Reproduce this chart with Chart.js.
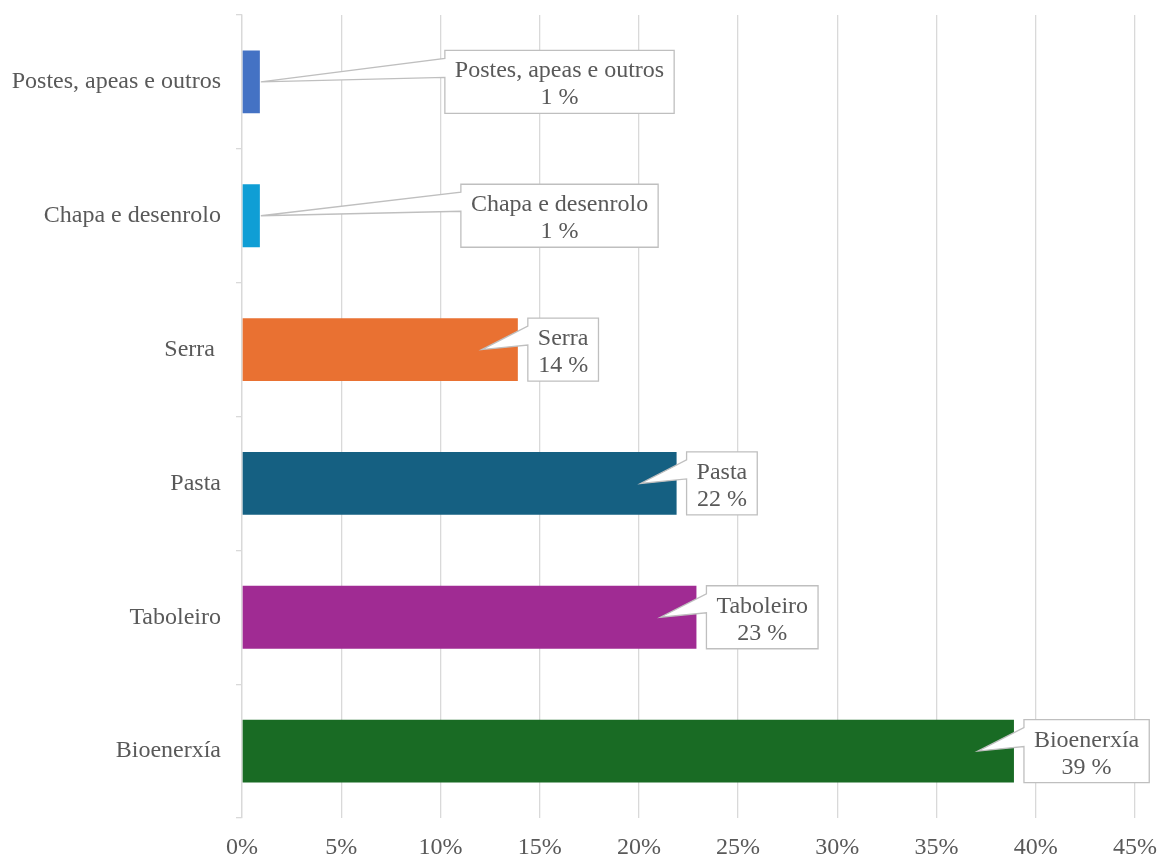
<!DOCTYPE html>
<html>
<head>
<meta charset="utf-8">
<script src="https://cdn.jsdelivr.net/npm/chart.js@4/dist/chart.umd.min.js"></script>
<style>
  html, body { margin: 0; padding: 0; background: #fff; }
  #wrap { width: 1159px; height: 857px; }
</style>
</head>
<body>
<div id="wrap"><canvas id="chart"></canvas></div>
<script>
const categories = ['Postes, apeas e outros', 'Chapa e desenrolo', 'Serra ', 'Pasta', 'Taboleiro', 'Bioenerxía'];
const shares = [0.9, 0.9, 13.9, 21.9, 22.9, 38.9];
const barColors = ['#4472C4', '#0F9ED5', '#E97132', '#156082', '#A02B93', '#196B24'];
const xTicks = [0, 5, 10, 15, 20, 25, 30, 35, 40, 45];

const textColor = '#595959';
const gridColor = '#D9D9D9';
const font = 'Liberation Serif';

// callout boxes like the Excel data labels
const callouts = {
  id: 'callouts',
  afterDatasetsDraw(chart) {
    const ctx = chart.ctx;
    const xs = chart.scales.x;
    const meta = chart.getDatasetMeta(0);
    ctx.save();
    ctx.font = '24px "' + font + '"';
    meta.data.forEach((bar, i) => {
      const v = shares[i];
      const line1 = categories[i].trim();
      const line2 = Math.round(v) + ' %';
      const w = Math.max(ctx.measureText(line1).width, ctx.measureText(line2).width) + 20;
      const h = 63;
      const top = bar.y - h / 2;
      let left, tipX;
      if (v < 5) {
        left = xs.getPixelForValue(16) - w / 2;
        tipX = bar.x + 1;
      } else {
        left = bar.x + 10;
        tipX = bar.x - 36;
      }
      const tipY = bar.y;
      ctx.beginPath();
      ctx.moveTo(left, top);
      ctx.lineTo(left + w, top);
      ctx.lineTo(left + w, top + h);
      ctx.lineTo(left, top + h);
      ctx.lineTo(left, top + 27);
      ctx.lineTo(tipX, tipY);
      ctx.lineTo(left, top + 8);
      ctx.closePath();
      ctx.fillStyle = '#fff';
      ctx.fill();
      ctx.strokeStyle = '#BFBFBF';
      ctx.lineWidth = 1.3;
      ctx.stroke();
      ctx.fillStyle = textColor;
      ctx.textAlign = 'center';
      ctx.textBaseline = 'alphabetic';
      ctx.fillText(line1, left + w / 2, top + 27);
      ctx.fillText(line2, left + w / 2, top + 54);
    });
    ctx.restore();
  }
};

new Chart(document.getElementById('chart'), {
  type: 'bar',
  data: {
    labels: categories,
    datasets: [{
      data: shares,
      backgroundColor: barColors,
      borderWidth: 0,
      barPercentage: 0.47,
      categoryPercentage: 1
    }]
  },
  options: {
    indexAxis: 'y',
    responsive: true,
    maintainAspectRatio: false,
    animation: false,
    layout: { padding: { top: 15, right: 24, bottom: 0, left: 0 } },
    plugins: { legend: { display: false }, tooltip: { enabled: false } },
    scales: {
      x: {
        min: 0,
        max: 45,
        afterBuildTicks: (scale) => { scale.ticks = xTicks.map(v => ({ value: v })); },
        afterFit: (scale) => {
          scale.height = 39;
          scale.paddingLeft = 0;
          scale.paddingRight = 0;
        },
        grid: { color: gridColor, drawTicks: false, lineWidth: 1.3 },
        border: { display: false },
        ticks: {
          padding: 15,
          color: textColor,
          font: { family: font, size: 24 },
          callback: (v) => v + '%'
        }
      },
      y: {
        afterFit: (scale) => {
          scale.width = 242;
          scale.paddingTop = 0;
          scale.paddingBottom = 0;
        },
        grid: { offset: true, drawOnChartArea: false, tickLength: 6, color: gridColor, lineWidth: 1.3 },
        border: { color: gridColor, width: 1.3 },
        ticks: {
          padding: 15,
          color: textColor,
          font: { family: font, size: 24 }
        }
      }
    }
  },
  plugins: [callouts]
});
</script>
</body>
</html>
